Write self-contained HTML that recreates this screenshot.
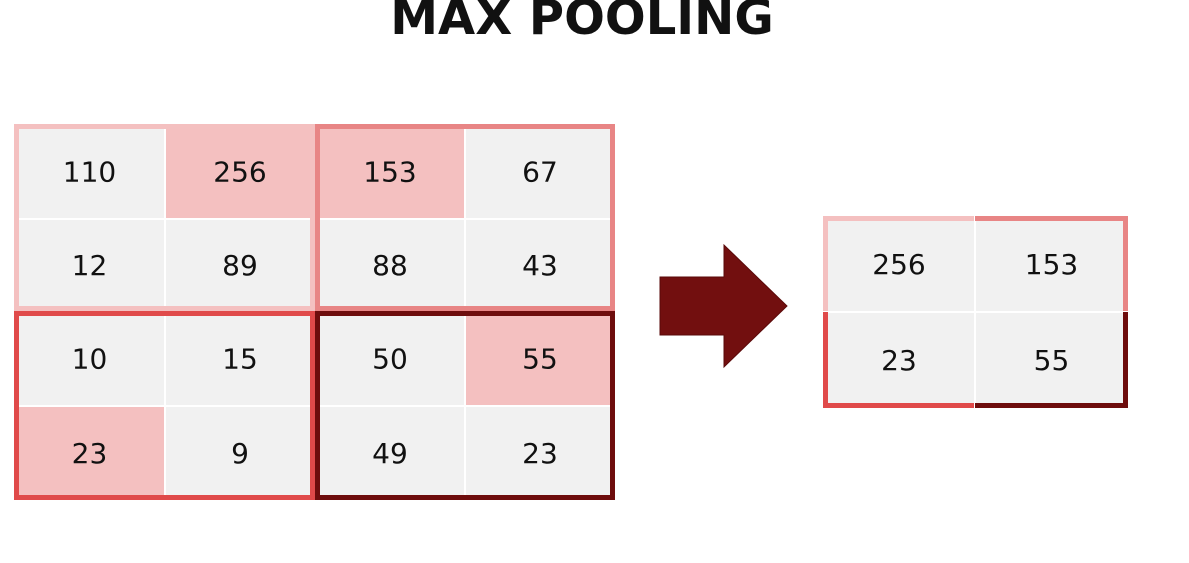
<!DOCTYPE html>
<html><head><meta charset="utf-8"><style>
body{margin:0;background:#fff;width:1189px;height:563px;overflow:hidden}
svg{display:block}
text{font-family:"DejaVu Sans","Liberation Sans",sans-serif}
</style></head><body>
<svg id="s" width="1189" height="563">
<text x="582" y="34" text-anchor="middle" font-size="48" font-weight="bold" fill="#111">MAX POOLING</text>
<polygon points="660,277 724,277 724,245 787,306 724,367 724,335 660,335" fill="#720f0f" stroke="#5a0a0a" stroke-width="1"/>
</svg>
<script>
const inputValues=[[110,256,153,67],[12,89,88,43],[10,15,50,55],[23,9,49,23]];
const outputValues=[[256,153],[23,55]];
const quadColors=["#f4c0c0","#e88585","#e04a4a","#6e0d0d"];
const NS="http://www.w3.org/2000/svg";
const s=document.getElementById('s');
function el(t,a){const e=document.createElementNS(NS,t);for(const k in a)e.setAttribute(k,a[k]);s.appendChild(e);return e;}
const colX=[14,165,315,465,615], rowY=[124,219,311,406,500];
for(let r=0;r<4;r++)for(let c=0;c<4;c++){
  const v=inputValues[r][c];
  const isMax=outputValues[Math.floor(r/2)][Math.floor(c/2)]===v;
  const rc=el('rect',{x:colX[c],y:rowY[r],width:colX[c+1]-colX[c],height:rowY[r+1]-rowY[r],fill:isMax?'#f4c0c0':'#f1f1f1',stroke:'#fff','stroke-width':2});
  
  
  const t=el('text',{x:(colX[c]+colX[c+1])/2,y:(rowY[r]+rowY[r+1])/2+10,'text-anchor':'middle','font-size':28,fill:'#111'});
  t.textContent=v;
  
  
}
for(let q=0;q<4;q++){
  const qr=Math.floor(q/2),qc=q%2;
  const x0=colX[qc*2],x1=colX[qc*2+2],y0=rowY[qr*2],y1=rowY[qr*2+2];
  const b=el('rect',{x:x0+2.5,y:y0+2.5,width:x1-x0-5,height:y1-y0-5,fill:'none',stroke:quadColors[q],'stroke-width':5});
  
  
}
const oX=[823,975,1128], oY=[216,312,408];
for(let r=0;r<2;r++)for(let c=0;c<2;c++){
  const rc=el('rect',{x:oX[c],y:oY[r],width:oX[c+1]-oX[c],height:oY[r+1]-oY[r],fill:'#f1f1f1',stroke:'#fff','stroke-width':2});
  
  
  const t=el('text',{x:(oX[c]+oX[c+1])/2,y:(oY[r]+oY[r+1])/2+10,'text-anchor':'middle','font-size':28,fill:'#111'});
  t.textContent=outputValues[r][c];
  
  
  const q=r*2+c, x0=oX[c],x1=oX[c+1],y0=oY[r],y1=oY[r+1];
  let d='';
  if(r===0)d+=`M${x0},${y0+2.5}H${x1}`;
  if(r===1)d+=`M${x0},${y1-2.5}H${x1}`;
  if(c===0)d+=`M${x0+2.5},${y0}V${y1}`;
  if(c===1)d+=`M${x1-2.5},${y0}V${y1}`;
  const p=el('path',{d:d,stroke:quadColors[q],'stroke-width':5,fill:'none'});
  
  
}
</script>
</body></html>
